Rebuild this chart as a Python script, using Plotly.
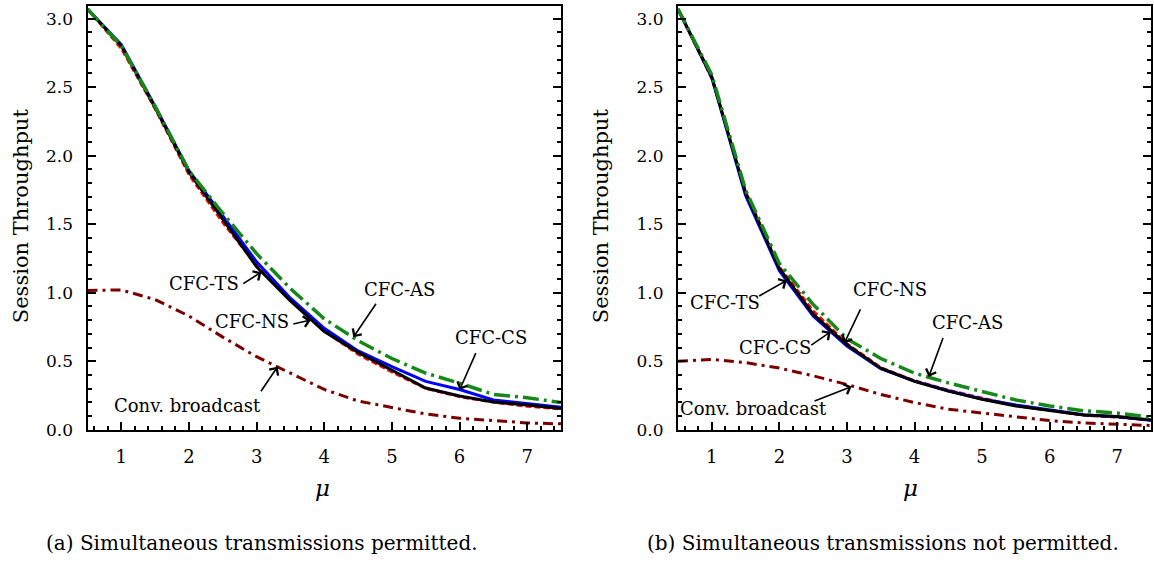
import plotly.graph_objects as go

mu = [0.5, 1.0, 1.5, 2.0, 2.5, 3.0, 3.5, 4.0, 4.5, 5.0, 5.5, 6.0, 6.5, 7.0, 7.5]

# Panel (a): simultaneous transmissions permitted
a_ts = [3.07, 2.78, 2.34, 1.86, 1.51, 1.20, 0.95, 0.72, 0.55, 0.42, 0.30, 0.24, 0.20, 0.17, 0.15]
a_cs = [3.07, 2.81, 2.36, 1.89, 1.56, 1.225, 0.96, 0.74, 0.575, 0.46, 0.353, 0.294, 0.217, 0.19, 0.165]
a_ns = [3.07, 2.80, 2.35, 1.88, 1.535, 1.19, 0.94, 0.716, 0.565, 0.437, 0.305, 0.246, 0.203, 0.18, 0.155]
a_as = [3.07, 2.80, 2.36, 1.89, 1.58, 1.285, 1.03, 0.81, 0.65, 0.52, 0.413, 0.34, 0.258, 0.234, 0.198]
a_conv = [1.017, 1.02, 0.95, 0.83, 0.676, 0.533, 0.413, 0.294, 0.21, 0.162, 0.115, 0.084, 0.067, 0.05, 0.043]

# Panel (b): simultaneous transmissions not permitted
b_ts = [3.07, 2.56, 1.74, 1.19, 0.87, 0.63, 0.455, 0.36, 0.29, 0.23, 0.175, 0.14, 0.105, 0.09, 0.07]
b_cs = [3.07, 2.57, 1.71, 1.16, 0.83, 0.61, 0.445, 0.355, 0.285, 0.225, 0.18, 0.145, 0.11, 0.095, 0.07]
b_ns = [3.07, 2.575, 1.727, 1.177, 0.843, 0.62, 0.449, 0.353, 0.282, 0.222, 0.174, 0.139, 0.107, 0.096, 0.072]
b_as = [3.07, 2.59, 1.75, 1.213, 0.915, 0.664, 0.52, 0.413, 0.342, 0.282, 0.217, 0.174, 0.139, 0.122, 0.09]
b_conv = [0.50, 0.513, 0.49, 0.45, 0.394, 0.33, 0.258, 0.198, 0.15, 0.122, 0.09, 0.067, 0.05, 0.038, 0.031]

captions = ["(a) Simultaneous transmissions permitted.", "(b) Simultaneous transmissions not permitted."]
y_title = "Session Throughput"
x_title = "μ"

# label text, text position (x, y), arrow tail (x, y), arrow head (x, y)
a_labels = [
    ("CFC-TS", 2.22, 1.07, 2.78, 1.06, 3.07, 1.15),
    ("CFC-NS", 2.93, 0.79, 3.52, 0.77, 3.80, 0.80),
    ("CFC-AS", 5.11, 1.02, 4.78, 0.93, 4.43, 0.675),
    ("CFC-CS", 6.47, 0.676, 6.25, 0.57, 6.00, 0.29),
    ("Conv. broadcast", 1.98, 0.18, 3.05, 0.27, 3.31, 0.46),
]
b_labels = [
    ("CFC-TS", 1.19, 0.93, 1.68, 0.97, 2.11, 1.09),
    ("CFC-NS", 3.64, 1.02, 3.21, 0.89, 2.96, 0.63),
    ("CFC-AS", 4.79, 0.78, 4.43, 0.68, 4.21, 0.385),
    ("CFC-CS", 1.94, 0.60, 2.45, 0.61, 2.76, 0.715),
    ("Conv. broadcast", 1.61, 0.153, 2.50, 0.205, 3.07, 0.315),
]

FONT = "DejaVu Serif"
GREEN = "#16881a"
MAROON = "#7a0000"

fig = go.Figure()

def add_panel(xa, ya, ts, cs, ns, as_, conv):
    fig.add_trace(go.Scatter(x=mu, y=ts, mode="lines", xaxis=xa, yaxis=ya,
                             line=dict(color="#ff0000", width=2.5, dash="6px,3px")))
    fig.add_trace(go.Scatter(x=mu, y=cs, mode="lines", xaxis=xa, yaxis=ya,
                             line=dict(color="#0000ff", width=3)))
    fig.add_trace(go.Scatter(x=mu, y=ns, mode="lines", xaxis=xa, yaxis=ya,
                             line=dict(color="#000000", width=3)))
    fig.add_trace(go.Scatter(x=mu, y=as_, mode="lines", xaxis=xa, yaxis=ya,
                             line=dict(color=GREEN, width=3.5, dash="16px,5px,3px,5px")))
    fig.add_trace(go.Scatter(x=mu, y=conv, mode="lines", xaxis=xa, yaxis=ya,
                             line=dict(color=MAROON, width=3, dash="10px,5px,3px,5px")))

add_panel("x", "y", a_ts, a_cs, a_ns, a_as, a_conv)
add_panel("x2", "y2", b_ts, b_cs, b_ns, b_as, b_conv)

def xaxis_style(dom, anchor):
    return dict(domain=dom, anchor=anchor, range=[0.5, 7.5], showgrid=False, zeroline=False,
                showline=True, linewidth=2, linecolor="black", mirror=True,
                ticks="inside", ticklen=8, tickwidth=2, tickcolor="black",
                tickmode="linear", tick0=1, dtick=1, ticklabelstandoff=10,
                minor=dict(ticks="inside", ticklen=4, tickwidth=1.5, tickcolor="black",
                           tickmode="linear", tick0=0, dtick=0.2, showgrid=False),
                tickfont=dict(family=FONT, size=18, color="black"))

def yaxis_style(anchor):
    return dict(domain=[1 - 437.3 / 580, 1 - 6 / 580], range=[0, 3.093], anchor=anchor,
                showgrid=False, zeroline=False,
                showline=True, linewidth=2, linecolor="black", mirror="ticks",
                ticks="inside", ticklen=8, tickwidth=2, tickcolor="black",
                tickmode="linear", tick0=0, dtick=0.5, tickformat=".1f",
                ticklabelstandoff=9,
                minor=dict(ticks="inside", ticklen=4, tickwidth=1.5, tickcolor="black",
                           tickmode="linear", tick0=0, dtick=0.1, showgrid=False),
                tickfont=dict(family=FONT, size=17, color="black"))

ann = []
for xref, yref, labels in (("x", "y", a_labels), ("x2", "y2", b_labels)):
    for txt, tx, ty, axx, ayy, hx, hy in labels:
        ann.append(dict(x=tx, y=ty, xref=xref, yref=yref, text=txt, showarrow=False,
                        xanchor="center", yanchor="middle",
                        font=dict(family=FONT, size=18, color="black")))
        ann.append(dict(x=hx, y=hy, ax=axx, ay=ayy, xref=xref, yref=yref,
                        axref=xref, ayref=yref, text="", showarrow=True,
                        arrowhead=4, arrowsize=1.3, arrowwidth=1.6, arrowcolor="black"))

# axis titles
for cx, ytx in ((322 / 1154, 21 / 1154), (910 / 1154, 601 / 1154)):
    ann.append(dict(x=cx, y=1 - 497 / 580, xref="paper", yref="paper", text="<i>" + x_title + "</i>",
                    xanchor="center", yanchor="middle",
                    showarrow=False, font=dict(family=FONT, size=23, color="black")))
    ann.append(dict(x=ytx, y=1 - 220 / 580, xref="paper", yref="paper", text=y_title,
                    xanchor="center", yanchor="middle",
                    textangle=-90, showarrow=False, font=dict(family=FONT, size=21, color="black")))
# captions
for capx, cap in zip((262 / 1154, 883 / 1154), captions):
    ann.append(dict(x=capx, y=1 - 553 / 580, xref="paper", yref="paper", text=cap,
                    xanchor="center", yanchor="middle",
                    showarrow=False, font=dict(family=FONT, size=20, color="black")))

fig.update_layout(
    width=1154, height=580,
    margin=dict(l=0, r=0, t=0, b=0),
    paper_bgcolor="white", plot_bgcolor="white",
    showlegend=False,
    font=dict(family=FONT, color="black"),
    xaxis=xaxis_style([87.5 / 1154, 561 / 1154], "y"),
    yaxis=yaxis_style("x"),
    xaxis2=xaxis_style([678 / 1154, 1151 / 1154], "y2"),
    yaxis2=yaxis_style("x2"),
    annotations=ann,
)

fig.write_html("out.html")
